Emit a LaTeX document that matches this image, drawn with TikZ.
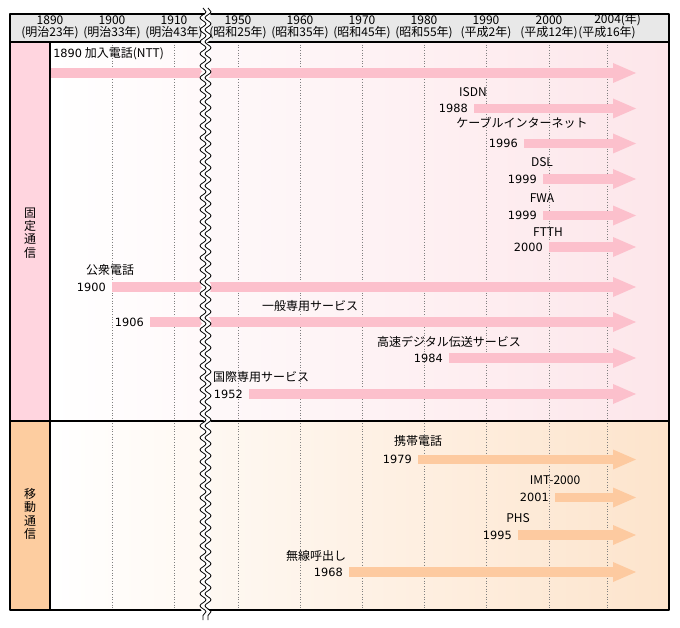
\documentclass[tikz,border=0pt]{standalone}
\usepackage{fontspec}
\setmainfont{Noto Sans CJK JP}
\newfontfamily\yrfont{DejaVu Sans}
\usetikzlibrary{arrows.meta,decorations.pathmorphing}
\definecolor{headgray}{HTML}{E8E8E8}
\definecolor{fixcol}{HTML}{FFD5DF}
\definecolor{mobcol}{HTML}{FDCDA0}
\definecolor{fixbg}{HTML}{FDE6EA}
\definecolor{mobbg}{HTML}{FDE4CC}
\definecolor{fixarr}{HTML}{FCC0CC}
\definecolor{mobarr}{HTML}{FDCAA0}
\tikzset{
  yrlab/.style={anchor=east, inner xsep=4.5pt, inner ysep=0pt, font=\yrfont\fontsize{8.5}{10}\selectfont},
  bar/.style={line width=7.1pt, -{Triangle[length=17.25pt, width=15pt, line width=0pt]}},
  fixbar/.style={bar, draw=fixarr},
  mobbar/.style={bar, draw=mobarr},
  grid/.style={gray, line width=0.6pt, dash pattern=on 0.8pt off 1.2pt},
  wave/.style={decorate, decoration={snake, segment length=9pt, amplitude=2.25pt}},
}
\begin{document}
\begin{tikzpicture}[x=0.75pt, y=-0.75pt, font=\fontsize{9}{10}\selectfont, line join=round]
\useasboundingbox (0,0) rectangle (680,627);
\coordinate (tip) at (636,0);
\fill[headgray] (10,14) rectangle (669,42);
\fill[fixcol] (10,42) rectangle (50,421);
\fill[mobcol] (10,421) rectangle (50,610);
\shade[left color=white, right color=fixbg] (50,42) rectangle (669,421);
\shade[left color=white, right color=mobbg] (50,421) rectangle (669,610);
\foreach \x in {112,174,238,300,362,424,486,549,607}
  \draw[grid] (\x,42)--(\x,610);
\coordinate (s0) at (50,73);
\draw[fixbar] (s0) -- (s0 -| tip);
\foreach \i/\yr/\s/\y/\lab/\lx/\ly in {1/1988/474/108.5/ISDN/473/92, 2/1996/524/143.5/ケーブルインターネット/522/123,
  3/1999/543/179/DSL/542/162, 4/1999/543/215.5/FWA/542/198, 5/2000/549/247/FTTH/548/232,
  6/1900/112/287/公衆電話/110/270, 7/1906/150/322/一般専用サービス/310/306,
  8/1984/449/358/高速デジタル伝送サービス/449/342, 9/1952/249/394/国際専用サービス/261/377}{
\node[yrlab] (y\i) at (\s,\y) {\yr};
\draw[fixbar] (y\i.east) -- (y\i.east -| tip);
\node (l\i) at (\lx,\ly) {\lab};
}
\foreach \i/\yr/\s/\y/\lab/\lx/\ly in {10/1979/418/459.5/携帯電話/418/441, 11/2001/555/497.5/IMT-2000/555/480,
  12/1995/518/535/PHS/518/518, 13/1968/349/572/無線呼出し/316/556}{
\node[yrlab] (y\i) at (\s,\y) {\yr};
\draw[mobbar] (y\i.east) -- (y\i.east -| tip);
\node (l\i) at (\lx,\ly) {\lab};
}
\draw[white, line width=4pt, wave] (205.5,6) -- (205.5,622);
\draw[line width=0.8pt] (10,14) rectangle (669,610) (10,42) -- (669,42) (10,421) -- (669,421) (50,42) -- (50,610);
\draw[white, line width=3.5pt, wave] (205.5,10) -- (205.5,620);
\draw[line width=0.6pt, wave] (203,8) -- (203,620);
\draw[line width=0.6pt, wave] (208,8) -- (208,620);
\node[anchor=west, inner sep=0pt] (l0) at (53,54) {{\yrfont\fontsize{8.5}{10}\selectfont 1890} 加入電話(NTT)};
\foreach \x/\t/\e in {50/1890/明治23年, 112/1900/明治33年, 174/1910/明治43年, 238/1950/昭和25年,
  300/1960/昭和35年, 362/1970/昭和45年, 424/1980/昭和55年, 486/1990/平成2年, 549/2000/平成12年}{
\node (h\t) at (\x,20) {\t};
\node (e\t) at (\x,33) {(\e)};
}
\node[anchor=west, inner sep=0pt] (h2004) at (594,20) {2004(年)};
\node (e2004) at (607,33) {(平成16年)};
\node[align=center] (fix) at (30,233) {固\\定\\通\\信};
\node[align=center] (mob) at (30,514) {移\\動\\通\\信};
\end{tikzpicture}
\end{document}
